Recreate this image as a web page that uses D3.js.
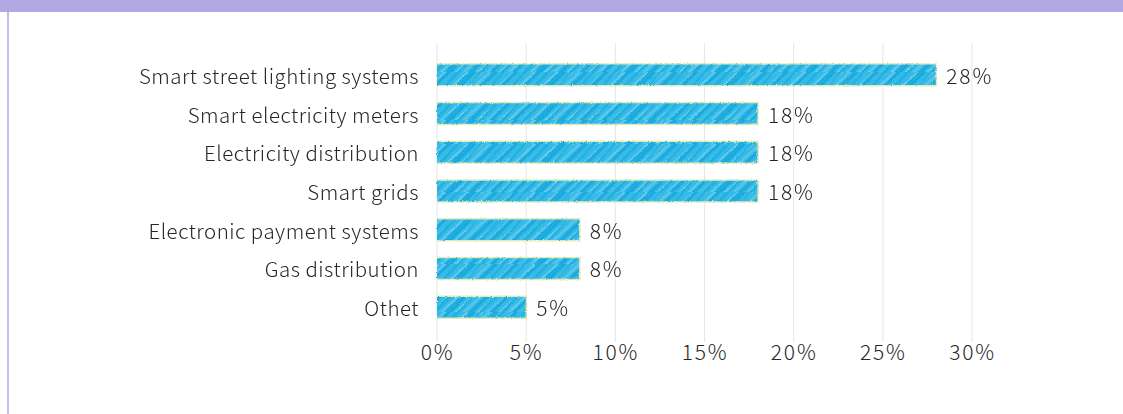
<!DOCTYPE html>
<html>
<head>
<meta charset="utf-8">
<script src="https://cdn.jsdelivr.net/npm/d3@7"></script>
<style>
  html, body { margin: 0; padding: 0; background: #fff; }
  svg { display: block; }
  text { font-family: "Noto Sans CJK KR", "Noto Sans", sans-serif; fill: #262626; }
</style>
</head>
<body>
<svg id="chart" width="1123" height="414"></svg>
<script>
// Share of smart-utility applications
const categories = [
  "Smart street lighting systems",
  "Smart electricity meters",
  "Electricity distribution",
  "Smart grids",
  "Electronic payment systems",
  "Gas distribution",
  "Othet"
];
const values = [28, 18, 18, 18, 8, 8, 5];
const tickValues = [0, 5, 10, 15, 20, 25, 30];

const W = 1123, H = 414;
const svg = d3.select("#chart");

// frame: purple header band and left rule
svg.append("rect").attr("x", 0).attr("y", 0).attr("width", W).attr("height", 12).attr("fill", "#b1a8e4");
svg.append("rect").attr("x", 7).attr("y", 12).attr("width", 2).attr("height", H - 12).attr("fill", "#c3bbea");

const x = d3.scaleLinear().domain([0, 30]).range([437, 972]);
const y = d3.scaleBand().domain(categories).range([55, 327]).paddingInner(0.44).paddingOuter(0.23);

const defs = svg.append("defs");

// crayon-like hatch texture for the bars
const PW = 90, PH = 24;
const pat = defs.append("pattern")
  .attr("id", "hatch").attr("patternUnits", "userSpaceOnUse")
  .attr("width", PW).attr("height", PH);
pat.append("rect").attr("width", PW).attr("height", PH).attr("fill", "#36bbe8");
// [offset, colour, width, opacity, slant]
const strokes = [
  [0, "#12a6dd", 3.2, 0.8, 26], [5, "#7dd5ee", 1.5, 0.75, 30], [9, "#18a8de", 2.0, 0.7, 24],
  [14, "#6ccdea", 2.6, 0.65, 28], [21, "#0e9fd8", 3.6, 0.6, 27], [27, "#9adbe2", 1.2, 0.65, 31],
  [31, "#1eaee0", 2.6, 0.85, 25], [37, "#5ec8ea", 2.0, 0.75, 29], [42, "#10a3da", 3.2, 0.7, 26],
  [49, "#a6dccf", 1.1, 0.6, 30], [53, "#19a9de", 2.2, 0.8, 24], [59, "#74d1ec", 2.2, 0.7, 28],
  [64, "#0f9fd8", 2.8, 0.65, 27], [70, "#4cc3e8", 1.8, 0.7, 31], [75, "#1eaee0", 3.0, 0.85, 25],
  [81, "#8ed7ea", 1.5, 0.65, 29], [86, "#14a4db", 2.0, 0.75, 26]
];
strokes.forEach(([o, c, w, a, s]) => {
  for (const dx of [-PW, 0, PW]) {
    pat.append("line")
      .attr("x1", o + dx - 2).attr("y1", PH + 2).attr("x2", o + dx + s).attr("y2", -2)
      .attr("stroke", c).attr("stroke-width", w).attr("stroke-opacity", a)
      .attr("stroke-linecap", "round");
  }
});

// roughen bar edges, soften slightly
const f = defs.append("filter").attr("id", "rough").attr("x", "-5%").attr("y", "-30%").attr("width", "110%").attr("height", "160%");
f.append("feTurbulence").attr("type", "fractalNoise").attr("baseFrequency", "0.8").attr("numOctaves", 2).attr("seed", 5).attr("result", "n");
f.append("feDisplacementMap").attr("in", "SourceGraphic").attr("in2", "n").attr("scale", 2.6)
  .attr("xChannelSelector", "R").attr("yChannelSelector", "G").attr("result", "d");
f.append("feGaussianBlur").attr("in", "d").attr("stdDeviation", 0.45);

// gridlines
svg.append("g").selectAll("line").data(tickValues).join("line")
  .attr("x1", d => x(d)).attr("x2", d => x(d))
  .attr("y1", 43).attr("y2", 342)
  .attr("stroke", "#e8e8e8").attr("stroke-width", 1.1);

// bars
const bars = svg.append("g").attr("filter", "url(#rough)");
bars.selectAll("rect.edge").data(categories).join("rect")
  .attr("class", "edge")
  .attr("x", x(0)).attr("y", d => y(d) - 0.8)
  .attr("width", (d, i) => x(values[i]) - x(0) + 0.8)
  .attr("height", y.bandwidth() + 1.6)
  .attr("fill", "#cfe08c").attr("opacity", 0.65);
bars.selectAll("rect.bar").data(categories).join("rect")
  .attr("class", "bar")
  .attr("x", x(0)).attr("y", d => y(d) + 0.6)
  .attr("width", (d, i) => x(values[i]) - x(0) - 0.6)
  .attr("height", y.bandwidth() - 1.2)
  .attr("fill", "url(#hatch)");

// category labels
svg.append("g").selectAll("text").data(categories).join("text")
  .attr("x", 419).attr("y", d => y(d) + y.bandwidth() / 2)
  .attr("text-anchor", "end").attr("dominant-baseline", "central")
  .attr("font-size", 20.5).attr("font-weight", 300).attr("letter-spacing", 0.5)
  .text(d => d);

// value labels
svg.append("g").selectAll("text").data(categories).join("text")
  .attr("x", (d, i) => x(values[i]) + 10).attr("y", d => y(d) + y.bandwidth() / 2)
  .attr("dominant-baseline", "central")
  .attr("font-size", 21).attr("font-weight", 300).attr("letter-spacing", 1.8)
  .text((d, i) => values[i] + "%");

// x axis tick labels
const axis = d3.axisBottom(x).tickValues(tickValues).tickFormat(d => d + "%").tickSize(0).tickPadding(0);
const ax = svg.append("g").attr("transform", "translate(0,340)").call(axis);
ax.select(".domain").remove();
ax.selectAll("text")
  .attr("font-size", 21).attr("font-weight", 300).attr("letter-spacing", 1.8)
  .attr("dy", null).attr("y", 11).attr("dominant-baseline", "central")
  .style("font-family", "\"Noto Sans CJK KR\", \"Noto Sans\", sans-serif").attr("fill", "#262626");
</script>
</body>
</html>
